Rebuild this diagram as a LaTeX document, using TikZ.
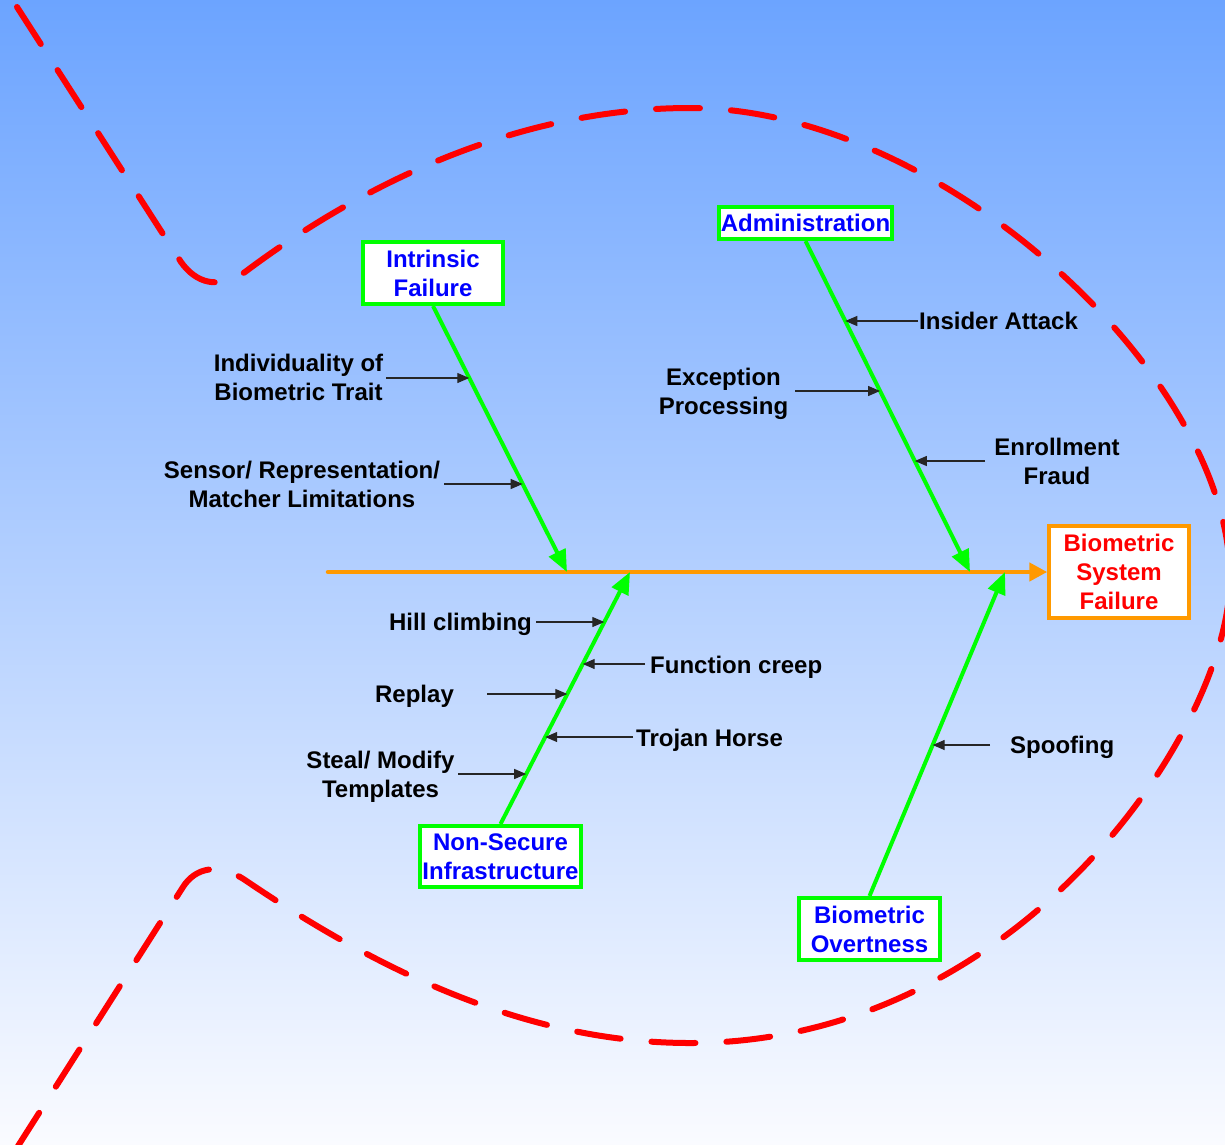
\documentclass[tikz,border=0pt]{standalone}
\usepackage{fontspec}
\setmainfont{Liberation Sans}
\usetikzlibrary{arrows.meta,calc}
\definecolor{bgtop}{RGB}{108,164,255}
\definecolor{bgmid}{RGB}{190,208,250}
\definecolor{bgbot}{RGB}{250,251,255}
\definecolor{bonegreen}{RGB}{0,255,0}
\definecolor{spineorange}{RGB}{255,153,0}
\definecolor{labelblue}{RGB}{0,0,255}
\definecolor{fishred}{RGB}{255,0,0}
\begin{document}
\begin{tikzpicture}[x=1pt,y=-1pt,
  lbl/.style={font=\fontsize{24}{29}\selectfont\bfseries, inner sep=0pt, align=center, text=black},
  cause/.style={draw=bonegreen, line width=4pt, fill=white, inner sep=0pt, align=center,
    font=\fontsize{24}{29}\selectfont\bfseries, text=labelblue},
  effect/.style={draw=spineorange, line width=3.5pt, fill=white, inner sep=0pt, align=center,
    font=\fontsize{24}{29}\selectfont\bfseries, text=fishred},
  bone/.style={draw=bonegreen, line width=4pt, -{Triangle[length=22pt,width=18pt]}},
  spine/.style={draw=spineorange, line width=4.5pt, line cap=round, -{Triangle[length=18pt,width=18pt]}},
  feeder/.style={draw=black!85, line width=1.2pt, -{Triangle[length=12pt,width=10pt]}},
  outline/.style={draw=fishred, line width=6pt, line cap=round, dash pattern=on 44pt off 31pt}
]
% canvas and background gradient
\useasboundingbox (0,0) rectangle (1225,1144);
\clip (0,0) rectangle (1225,1144);
\shade[top color=bgtop, middle color=bgmid, bottom color=bgbot] (0,0) rectangle (1225,1144);

% dashed fish outline with its tail
\draw[outline] (17,7) -- (181,262)
  .. controls (196,283) and (218,290) .. (245,272)
  .. controls (365,182) and (520,108) .. (690,108)
  .. controls (940,108) and (1230,375) .. (1230,578)
  .. controls (1230,728) and (1020,1043) .. (690,1043)
  .. controls (520,1043) and (369,964) .. (245,880)
  .. controls (218,862) and (195,868) .. (183,887)
  -- (18,1146);

% cause boxes and effect box
\node[cause, minimum width=140pt, minimum height=62pt] (intr) at (433,273) {Intrinsic\\Failure};
\node[cause, minimum width=173pt, minimum height=32pt] (admin) at (805.5,223) {Administration};
\node[cause, minimum width=161pt, minimum height=61pt] (nsec) at (500.5,856.5) {Non-Secure\\Infrastructure};
\node[cause, minimum width=141pt, minimum height=62pt] (overt) at (869.5,929) {Biometric\\Overtness};
\node[effect, minimum width=140pt, minimum height=92pt] (bsf) at (1119,572) {Biometric\\System\\Failure};

% spine
\coordinate (spinetail) at (328,572);
\draw[spine] (spinetail) -- (bsf.west);

% bones
\coordinate (tipI) at (567,572);
\coordinate (tipA) at (970,572);
\coordinate (tipN) at (630,572);
\coordinate (tipO) at (1005,572);
\draw[bone] (intr.south) -- (tipI);
\draw[bone] (admin.south) -- (tipA);
\draw[bone] (nsec.north) -- (tipN);
\draw[bone] (overt.north) -- (tipO);

% points on the bones where the sub-causes meet them
\path (intr.south) -- (tipI) coordinate[pos=0.2707] (bi1) coordinate[pos=0.669] (bi2);
\path (admin.south) -- (tipA) coordinate[pos=0.2417] (ba1) coordinate[pos=0.4532] (ba2) coordinate[pos=0.6647] (ba3);
\path (nsec.north) -- (tipN) coordinate[pos=0.8016] (bn1) coordinate[pos=0.6349] (bn2)
  coordinate[pos=0.5159] (bn3) coordinate[pos=0.3452] (bn4) coordinate[pos=0.1984] (bn5);
\path (overt.north) -- (tipO) coordinate[pos=0.466] (bo1);

% sub-cause labels
\node[lbl, anchor=north] (lindiv) at (298.5,353.4) {Individuality of\\Biometric Trait};
\node[lbl, anchor=north] (lsensor) at (302,460.4) {Sensor/ Representation/\\Matcher Limitations};
\node[lbl, anchor=north west] (linsider) at (919,311.4) {Insider Attack};
\node[lbl, anchor=north] (lexcept) at (723.5,367.4) {Exception\\Processing};
\node[lbl, anchor=north] (lenroll) at (1057,437.4) {Enrollment\\Fraud};
\node[lbl, anchor=north] (lhill) at (460.5,612.4) {Hill climbing};
\node[lbl, anchor=north west] (lfunc) at (650,655.4) {Function creep};
\node[lbl, anchor=north] (lreplay) at (414.5,684.4) {Replay};
\node[lbl, anchor=north west] (ltrojan) at (636,728.4) {Trojan Horse};
\node[lbl, anchor=north] (lsteal) at (380.5,750.4) {Steal/ Modify\\Templates};
\node[lbl, anchor=north west] (lspoof) at (1010,735.4) {Spoofing};

% sub-cause arrows
\coordinate (fi1) at (386,378);
\coordinate (fi2) at (444,484);
\coordinate (fa1) at (918,321);
\coordinate (fa2) at (795,391);
\coordinate (fa3) at (985,461);
\coordinate (fn1) at (536,622);
\coordinate (fn2) at (645,664);
\coordinate (fn3) at (487,694);
\coordinate (fn4) at (633,737);
\coordinate (fn5) at (458,774);
\coordinate (fo1) at (990,745);
\draw[feeder] (fi1) -- (fi1 -| bi1);
\draw[feeder] (fi2) -- (fi2 -| bi2);
\draw[feeder] (fa1) -- (fa1 -| ba1);
\draw[feeder] (fa2) -- (fa2 -| ba2);
\draw[feeder] (fa3) -- (fa3 -| ba3);
\draw[feeder] (fn1) -- (fn1 -| bn1);
\draw[feeder] (fn2) -- (fn2 -| bn2);
\draw[feeder] (fn3) -- (fn3 -| bn3);
\draw[feeder] (fn4) -- (fn4 -| bn4);
\draw[feeder] (fn5) -- (fn5 -| bn5);
\draw[feeder] (fo1) -- (fo1 -| bo1);
\end{tikzpicture}
\end{document}
